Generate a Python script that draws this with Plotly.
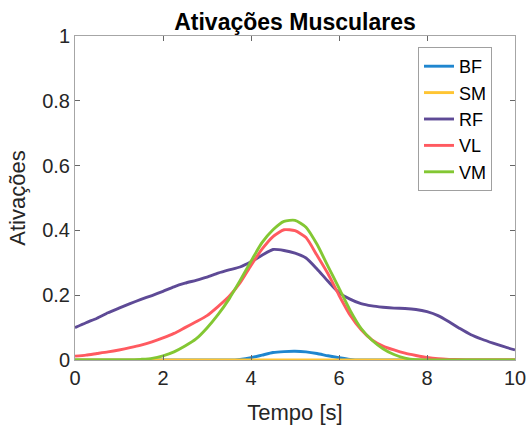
import plotly.graph_objects as go

t = [0, 0.25, 0.5, 0.75, 1, 1.25, 1.5, 1.75, 2, 2.25, 2.5, 2.75, 3, 3.25, 3.5, 3.75,
     4, 4.25, 4.5, 4.75, 5, 5.25, 5.5, 5.75, 6, 6.25, 6.5, 6.75, 7, 7.25, 7.5, 7.75,
     8, 8.25, 8.5, 8.75, 9, 9.25, 9.5, 9.75, 10]

bf = [0, 0, 0, 0, 0, 0, 0, 0, 0, 0, 0, 0, 0, 0, 0, 0.002,
      0.007, 0.015, 0.023, 0.026, 0.027, 0.025, 0.020, 0.013, 0.007, 0.002, 0, 0, 0, 0, 0, 0,
      0, 0, 0, 0, 0, 0, 0, 0, 0]

sm = [0] * 41

rf = [0.100, 0.115, 0.129, 0.146, 0.160, 0.174, 0.187, 0.199, 0.212, 0.226, 0.237, 0.246, 0.256, 0.268, 0.278, 0.287,
      0.303, 0.323, 0.341, 0.338, 0.330, 0.315, 0.281, 0.243, 0.208, 0.188, 0.174, 0.167, 0.163, 0.160, 0.159, 0.156,
      0.149, 0.137, 0.118, 0.097, 0.078, 0.064, 0.052, 0.041, 0.031]

vl = [0.012, 0.015, 0.020, 0.025, 0.031, 0.038, 0.046, 0.056, 0.068, 0.082, 0.100, 0.118, 0.137, 0.165, 0.196, 0.238,
      0.292, 0.342, 0.381, 0.402, 0.399, 0.378, 0.323, 0.266, 0.200, 0.139, 0.094, 0.062, 0.043, 0.031, 0.021, 0.014,
      0.008, 0.004, 0.002, 0.001, 0, 0, 0, 0, 0]

vm = [0, 0, 0, 0, 0, 0, 0.002, 0.005, 0.013, 0.025, 0.043, 0.065, 0.099, 0.140, 0.188, 0.245,
      0.305, 0.362, 0.402, 0.428, 0.431, 0.410, 0.357, 0.289, 0.222, 0.154, 0.098, 0.061, 0.035, 0.017, 0.006, 0.001,
      0, 0, 0, 0, 0, 0, 0, 0, 0]

names = ["BF", "SM", "RF", "VL", "VM"]
series = [bf, sm, rf, vl, vm]
colors = ["#1f86cf", "#ffc532", "#5e4a96", "#ff5a60", "#83c733"]

x_ticks = [0, 2, 4, 6, 8, 10]
y_ticks = [0, 0.2, 0.4, 0.6, 0.8, 1]
y_tick_text = ["0", "0.2", "0.4", "0.6", "0.8", "1"]

FONT = "Liberation Sans, Arial, sans-serif"

fig = go.Figure()
for name, ys, c in zip(names, series, colors):
    fig.add_trace(go.Scatter(x=t, y=ys, name=name, mode="lines",
                             line=dict(color=c, width=2.9, shape="spline", smoothing=0.6)))

fig.update_layout(
    width=529, height=425,
    margin=dict(l=75, r=14, t=36, b=65, autoexpand=False),
    paper_bgcolor="white", plot_bgcolor="white",
    font=dict(family=FONT, color="#262626"),
    title=dict(text="<b>Ativações Musculares</b>", x=0.5, xref="paper", xanchor="center",
               y=1 - 22 / 425, yref="container", yanchor="middle",
               font=dict(size=23, color="#000000", family=FONT)),
    showlegend=True,
    legend=dict(x=(492 - 75) / 440, xanchor="right", y=(360 - 47) / 324, yanchor="top",
                bgcolor="white", bordercolor="#a0a0a0", borderwidth=1,
                font=dict(size=18, color="#000000", family=FONT),
                itemwidth=30, tracegroupgap=0),
)

fig.update_xaxes(range=[0, 10], tickvals=x_ticks, ticks="inside", ticklen=5, tickcolor="#666666",
                 showline=True, linecolor="#a6a6a6", linewidth=1, mirror="ticks",
                 showgrid=False, zeroline=False, automargin=False,
                 tickfont=dict(size=20, color="#262626"),
                 title=dict(text="Tempo [s]", font=dict(size=22, color="#262626"), standoff=16))
fig.update_yaxes(range=[0, 1], tickvals=y_ticks, ticktext=y_tick_text, ticks="inside", ticklen=5,
                 tickcolor="#666666",
                 showline=True, linecolor="#a6a6a6", linewidth=1, mirror="ticks",
                 showgrid=False, zeroline=False, automargin=False,
                 tickfont=dict(size=20, color="#262626"),
                 title=dict(text="Ativações", font=dict(size=22, color="#262626"), standoff=10))

fig.write_html("out.html", config={"displayModeBar": False},
               post_script="document.body.style.margin='0';")
